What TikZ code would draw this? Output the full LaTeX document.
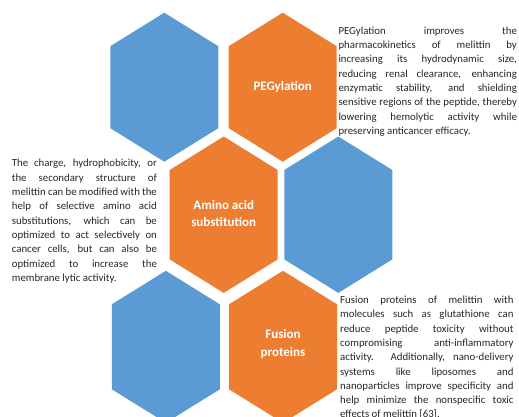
\documentclass[tikz,border=0pt]{standalone}
\usepackage{fontspec}
\setmainfont{Carlito}
\definecolor{hexblue}{HTML}{5B9BD5}
\definecolor{hexorange}{HTML}{ED7D31}
\definecolor{bodytext}{HTML}{262626}
\tikzset{
  % honeycomb cell: half width 54, vertical half edge #2, slanted cap 33.5
  pics/hexcell/.style 2 args={code={
    \fill[#1] (0,-#2-33.5) -- (54,-#2) -- (54,#2) -- (0,#2+33.5)
              -- (-54,#2) -- (-54,-#2) -- cycle;}},
  hexlabel/.style={text=white, font=\bfseries\fontsize{13}{17.5}\selectfont,
                   align=center, inner sep=0pt},
  note/.style={anchor=north west, inner sep=0pt, text=bodytext,
               font=\fontsize{10.8}{14.3}\selectfont, align=justify,
               text width=#1}
}
\newcommand\notesetup{\hyphenpenalty=10000 \exhyphenpenalty=10000
  \tolerance=10000 \strut}
\begin{document}
\begin{tikzpicture}[x=1pt,y=-1pt]
\useasboundingbox (0,0) rectangle (519,416);

% honeycomb
\pic at (164.3,87.2)  {hexcell={hexblue}{41}};
\pic at (282.7,87.2)  {hexcell={hexorange}{41}};
\pic at (223.7,214.7) {hexcell={hexorange}{44.7}};
\pic at (338.3,214.7) {hexcell={hexblue}{44.7}};
\pic at (165.8,346.8) {hexcell={hexblue}{42.5}};
\pic at (283,346.8)   {hexcell={hexorange}{42.5}};

% cell titles
\node[hexlabel] (peg)    at (282.7,87.3)  {PEGylation};
\node[hexlabel] (amino)  at (223.7,213.5) {Amino acid\\substitution};
\node[hexlabel] (fusion) at (283,344)     {Fusion\\proteins};

% descriptions
\node[note=178.4pt] (pegtext) at (338.3,24) {\notesetup
PEGylation improves the\linebreak
pharmacokinetics of melittin by\linebreak
increasing its hydrodynamic size,\linebreak
reducing renal clearance, enhancing\linebreak
enzymatic stability, and shielding\linebreak
sensitive regions of the peptide, thereby\linebreak
lowering hemolytic activity while\linebreak
preserving anticancer efficacy.};

\node[note=145pt] (aminotext) at (11.7,156.7) {\notesetup
The charge, hydrophobicity, or\linebreak
the secondary structure of\linebreak
melittin can be modified with the\linebreak
help of selective amino acid\linebreak
substitutions, which can be\linebreak
optimized to act selectively on\linebreak
cancer cells, but can also be\linebreak
optimized to increase the\linebreak
membrane lytic activity.};

\node[note=173.3pt] (fusiontext) at (340,293.3) {\notesetup
Fusion proteins of melittin with\linebreak
molecules such as glutathione can\linebreak
reduce peptide toxicity without\linebreak
compromising anti-inflammatory\linebreak
activity. Additionally, nano-delivery\linebreak
systems like liposomes and\linebreak
nanoparticles improve specificity and\linebreak
help minimize the nonspecific toxic\linebreak
effects of melittin [63].};
\end{tikzpicture}
\end{document}
